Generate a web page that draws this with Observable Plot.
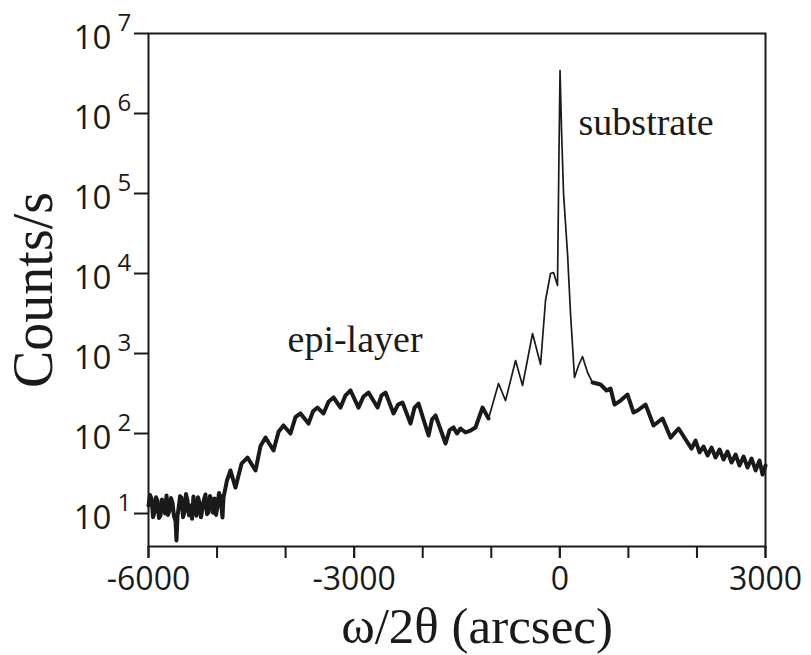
<!DOCTYPE html>
<html><head><meta charset="utf-8">
<script src="https://cdn.jsdelivr.net/npm/d3@7"></script>
<script src="https://cdn.jsdelivr.net/npm/@observablehq/plot@0.6"></script>
<style>body{margin:0;background:#fff}</style>
</head><body><div id="chart"></div>
<script>
// ω/2θ angle (arcsec) and intensity (counts/s)
const angle = [
  -6000,-5978,-5956,-5934,-5912,-5890,-5869,-5847,-5825,-5803,-5781,-5759,-5737,-5716,-5694,-5672,-5650,-5628,-5606,-5592,-5577,-5562,-5540,-5519,-5497,-5475,-5453,-5431,-5409,-5387,-5365,-5344,-5322,-5300,-5278,-5256,-5234,-5212,-5190,-5169,-5147,-5125,-5103,-5081,-5059,-5037,-5015,-4994,-4972,-4950,-4921,
  -4906,-4855,-4804,-4731,-4643,-4556,-4439,-4366,-4293,-4176,-4103,-4031,-3929,-3856,-3783,-3666,-3600,-3535,-3447,-3374,-3301,-3199,-3126,-3053,-2937,-2864,-2791,-2659,-2601,-2543,-2426,-2360,-2295,-2178,-2120,-2061,-1915,-1864,-1813,-1667,-1609,-1551,-1500,-1449,-1376,-1303,-1230,
  -1128,-1040,-894,-792,-646,-544,-398,-281,-209,-136,-92,-34,-12,3,25,54,112,156,214,273,331,404,477,594,681,740,798,886,988,1075,1134,1250,1367,1498,1615,1732,1863,
  1921,1980,2038,2096,2155,2213,2271,2330,2388,2446,2505,2563,2621,2680,2738,2797,2855,2913,2957,3000
];
const counts = [
  12.6,17.0,15.4,9.0,10.3,16.0,14.5,8.8,9.4,15.0,13.3,10.0,16.8,9.6,10.9,15.6,13.7,9.2,8.1,4.6,9.4,11.5,16.5,15.8,9.0,10.3,17.5,14.5,9.5,12.6,8.6,16.3,11.0,9.4,16.0,13.7,9.0,11.5,15.0,17.3,9.8,10.3,16.6,14.5,10.2,15.4,9.6,12.2,18.0,16.3,8.9,
  15.8,26,34.5,21.1,42,50.1,34.5,70,89.1,61.3,105,126,100,160,178,133,190,211,178,250,282,211,300,345,211,290,325,211,300,325,178,230,244,133,210,237,94.4,150,168,75,110,119,100,115.5,103,109,119,
  211,154,422,258,817,398,1778,729,4597,10000,10290,7079,344700,3450000,613000,100000,17780,3162,501,708,917,579,434,410,345,365,230,258,307,183,194,230,126,154,89,115.5,77.2,
  64.9,81.7,58,68.8,53.1,66.8,50.1,63.1,47.3,59.6,43.4,54.6,39.8,51.6,37.6,48.7,34.5,46,30.7,39.8
];
const xTicks = [-6000,-5000,-4000,-3000,-2000,-1000,0,1000,2000,3000];
const xTickLabels = [-6000,-3000,0,3000];
const yTicks = [1e1,1e2,1e3,1e4,1e5,1e6,1e7];
const yExponents = ["1","2","3","4","5","6","7"];
const annotationText = ["substrate","epi-layer"];
const annotationX = [273,-3972];
const annotationY = [772000,1496];
const xTitle = "ω/2θ (arcsec)";
const yTitle = "Counts/s";

const data = angle.map((x,i)=>({x, y: counts[i]}));
const ink = "#1a1a1a";
const chart = Plot.plot({
  width: 811, height: 655,
  marginLeft: 148, marginRight: 46, marginTop: 33, marginBottom: 109,
  style: {background: "#fff", color: ink, fontFamily: "Open Sans", fontSize: "32px"},
  x: {domain: [-6000, 3000]},
  y: {type: "log", domain: [3.87, 1e7]},
  marks: [
    Plot.line(data, {x: "x", y: d => (d.x > -1000 && d.x < 450) ? NaN : d.y, stroke: ink, strokeWidth: 4}),
    Plot.line(data, {x: "x", y: "y", stroke: ink, strokeWidth: 1.7}),
    Plot.frame({stroke: ink, strokeWidth: 2}),
    Plot.axisX({ticks: xTicks, tickSize: 12, strokeWidth: 2, label: null, tickFormat: () => null}),
    Plot.axisX({ticks: xTickLabels, tickSize: 12, tickPadding: 9, strokeWidth: 2, label: null, tickFormat: d => String(d)}),
    Plot.axisY({ticks: yTicks, tickSize: 14, strokeWidth: 2, label: null, tickFormat: () => null}),
    Plot.text(yTicks, {y: d => d, frameAnchor: "left", text: () => "10", textAnchor: "end", dx: -37, dy: 5, fontSize: 33}),
    Plot.text(yTicks, {y: d => d, frameAnchor: "left", text: (d, i) => yExponents[i], textAnchor: "start", dx: -31, dy: -10, fontSize: 24}),
    Plot.text(annotationText, {x: (d, i) => annotationX[i], y: (d, i) => annotationY[i], text: d => d, textAnchor: "start", fontSize: 38, fontFamily: "Liberation Serif"}),
    Plot.text([xTitle], {frameAnchor: "bottom", text: d => d, dx: 20, dy: 96, fontSize: 51, fontFamily: "Liberation Serif"}),
    Plot.text([yTitle], {frameAnchor: "left", text: d => d, dx: -114, rotate: -90, textAnchor: "middle", fontSize: 56, fontFamily: "Liberation Serif"})
  ]
});
document.getElementById("chart").appendChild(chart);
</script>
</body></html>
